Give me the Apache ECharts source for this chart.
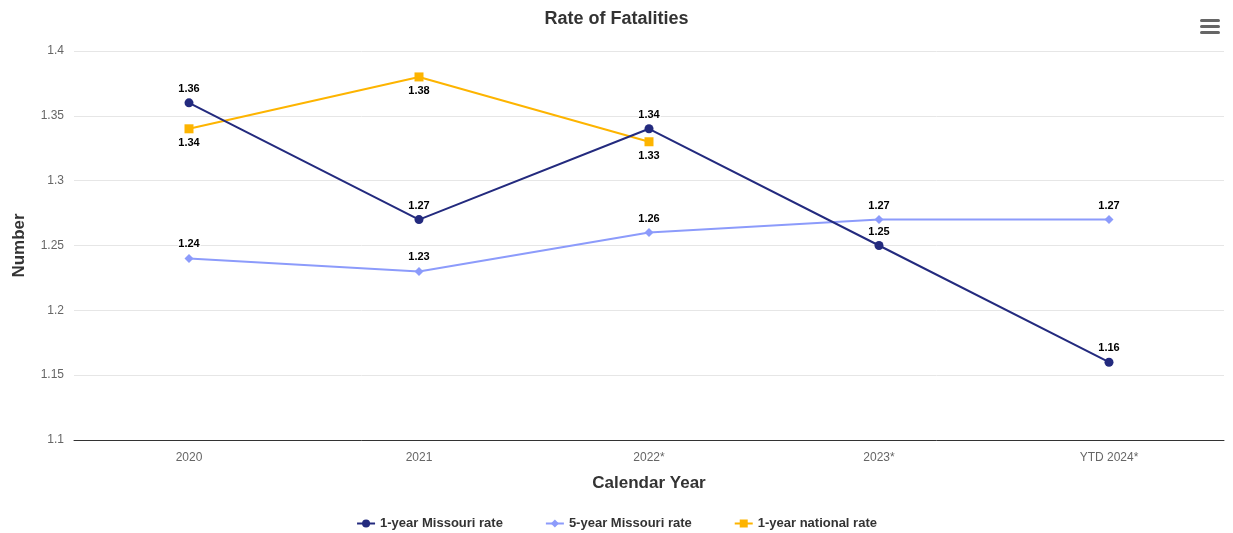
<!DOCTYPE html>
<html><head><meta charset="utf-8">
<script src="https://cdn.jsdelivr.net/npm/echarts@6/dist/echarts.min.js"></script>
<style>html,body{margin:0;padding:0;background:#fff}#c{width:1233px;height:533px}</style>
</head><body><div id="c"></div>
<script>
const categories = ['2020', '2021', '2022*', '2023*', 'YTD 2024*'];
const missouri1 = [1.36, 1.27, 1.34, 1.25, 1.16];
const missouri5 = [1.24, 1.23, 1.26, 1.27, 1.27];
const national1 = [1.34, 1.38, 1.33, null, null];
const yTicks = { min: 1.1, max: 1.4, interval: 0.05 };

const font = 'Arial, "Liberation Sans", sans-serif';
const lbl = (pos) => ({
  show: true, position: pos, distance: 4,
  fontFamily: font, fontSize: 11, fontWeight: 'bold', color: '#000',
  textBorderColor: '#fff', textBorderWidth: 2,
  formatter: p => p.value == null ? '' : p.value
});

const chart = echarts.init(document.getElementById('c'));
chart.setOption({
  animation: false,
  title: { text: 'Rate of Fatalities', left: 'center', top: 5,
    textStyle: { fontFamily: font, fontSize: 18, fontWeight: 'bold', color: '#333' } },
  grid: { left: 74, right: 9, top: 51, bottom: 93 },
  legend: { top: 512, itemGap: 42, itemWidth: 18, itemHeight: 10,
    textStyle: { fontFamily: font, fontSize: 13, fontWeight: 'bold', color: '#333' },
    data: ['1-year Missouri rate', '5-year Missouri rate', '1-year national rate'] },
  xAxis: { type: 'category', data: categories, boundaryGap: true,
    name: 'Calendar Year', nameLocation: 'middle', nameGap: 35,
    nameTextStyle: { fontFamily: font, fontSize: 17, fontWeight: 'bold', color: '#333' },
    axisLine: { lineStyle: { color: '#333', width: 1 } },
    axisTick: { show: false },
    axisLabel: { fontFamily: font, fontSize: 12, color: '#666', margin: 12 } },
  yAxis: { type: 'value', min: yTicks.min, max: yTicks.max, interval: yTicks.interval,
    name: 'Number', nameLocation: 'middle', nameGap: 46,
    nameTextStyle: { fontFamily: font, fontSize: 17, fontWeight: 'bold', color: '#333' },
    axisLine: { show: false }, axisTick: { show: false },
    axisLabel: { fontFamily: font, fontSize: 12, color: '#666', margin: 10,
      formatter: v => String(parseFloat(v.toFixed(2))) },
    splitLine: { lineStyle: { color: '#e6e6e6' } } },
  series: [
    { name: '1-year Missouri rate', type: 'line', data: missouri1,
      color: '#232a7e', symbol: 'circle', symbolSize: 9,
      lineStyle: { width: 2 }, label: lbl('top'), z: 3 },
    { name: '5-year Missouri rate', type: 'line', data: missouri5,
      color: '#8c9bfb', symbol: 'diamond', symbolSize: 9,
      lineStyle: { width: 2 }, label: lbl('top'), z: 2 },
    { name: '1-year national rate', type: 'line', data: national1,
      color: '#fdb400', symbol: 'rect', symbolSize: 9,
      lineStyle: { width: 2 }, label: lbl('bottom'), z: 1 }
  ],
  graphic: [
    { type: 'rect', left: 1200, top: 19, shape: { width: 20, height: 3, r: 1.5 }, style: { fill: '#666' } },
    { type: 'rect', left: 1200, top: 25, shape: { width: 20, height: 3, r: 1.5 }, style: { fill: '#666' } },
    { type: 'rect', left: 1200, top: 31, shape: { width: 20, height: 3, r: 1.5 }, style: { fill: '#666' } }
  ]
});
</script></body></html>
